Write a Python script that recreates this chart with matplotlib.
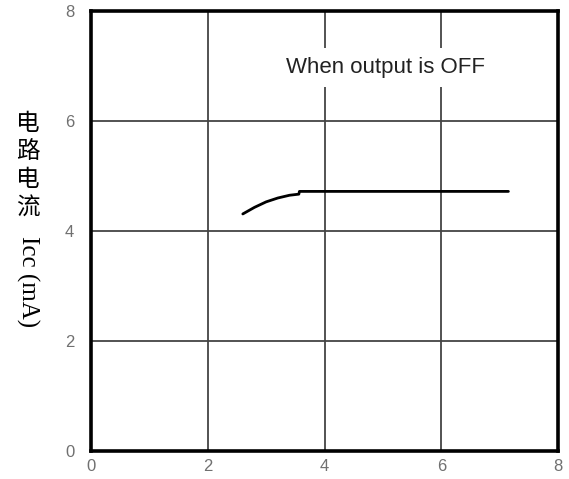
import matplotlib
matplotlib.use("Agg")
from matplotlib import pyplot as plt

# supply voltage vs circuit current, output OFF
vcc = [2.6, 2.8, 3.0, 3.2, 3.4, 3.56, 3.57, 7.15]
icc = [4.31, 4.43, 4.53, 4.60, 4.65, 4.67, 4.72, 4.72]

ticks = [0, 2, 4, 6, 8]
note = "When output is OFF"
ylabel_cn = "电路电流"
ylabel_en = "Icc (mA)"

fig = plt.figure(figsize=(5.69, 4.79), dpi=100)
ax = fig.add_axes([0.16, 0.0585, 0.8207, 0.9185])

ax.plot(vcc, icc, color="black", lw=2.0, solid_capstyle="round")

ax.set_xlim(0, 8)
ax.set_ylim(0, 8)
ax.set_xticks(ticks)
ax.set_yticks(ticks)
ax.set_xticklabels([str(t) for t in ticks], family="Liberation Sans", fontsize=12, color="#707070")
ax.set_yticklabels([str(t) for t in ticks], family="Liberation Sans", fontsize=12, color="#707070")
ax.tick_params(axis="both", length=0)
ax.tick_params(axis="x", pad=6)
ax.tick_params(axis="y", pad=12)
ax.grid(True, color="#444444", lw=1.3)
for s in ax.spines.values():
    s.set_linewidth(2.6)
    s.set_color("black")
    s.set_zorder(3)

# note sits on a white patch that cuts the grid lines
ax.text(5.04, 6.98, note, family="Liberation Sans", fontsize=16, color="#222222",
        ha="center", va="center",
        bbox=dict(boxstyle="square,pad=0.4", fc="white", ec="none"))

# stacked chinese label, then the rotated english part
for i, ch in enumerate(ylabel_cn):
    fig.text(28 / 569, 1 - (124 + 28 * i) / 479, ch, family="Noto Sans CJK SC",
             fontsize=17, ha="center", va="center")
fig.text(28 / 569, 1 - 282 / 479, ylabel_en, family="Liberation Serif",
         fontsize=18, rotation=270, ha="center", va="center")

fig.savefig("out.png", dpi=100)
